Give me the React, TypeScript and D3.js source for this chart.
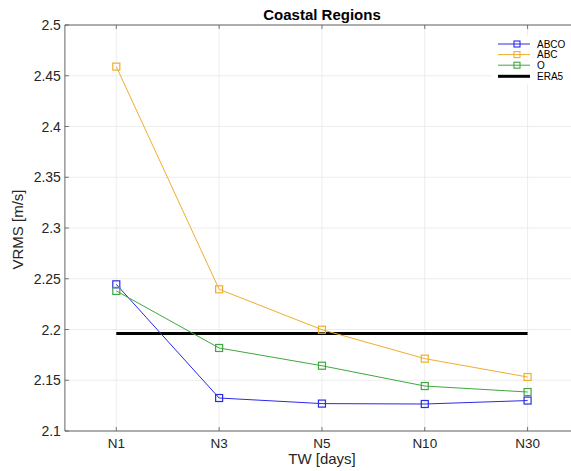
import React from "react";
import * as d3 from "d3";

const categories = ["N1", "N3", "N5", "N10", "N30"];
const abco = [2.2445, 2.1325, 2.127, 2.1266, 2.13];
const abc = [2.459, 2.2396, 2.1998, 2.1713, 2.1532];
const o = [2.238, 2.1818, 2.1643, 2.1443, 2.1384];
const era5 = 2.196;
const yTicks = [2.1, 2.15, 2.2, 2.25, 2.3, 2.35, 2.4, 2.45, 2.5];

const series = [
  { name: "ABCO", values: abco, color: "#2a2ae8" },
  { name: "ABC", values: abc, color: "#f0ad2e" },
  { name: "O", values: o, color: "#3fa83f" },
];

export default function App() {
  const W = 571, H = 471;
  const left = 64.9, top = 25, bottom = 431;
  const x = d3.scaleLinear().domain([0.5, 5.5]).range([left, 579]);
  const y = d3.scaleLinear().domain([2.1, 2.5]).range([bottom, top]);
  const line = d3.line<number>().x((_, i) => x(i + 1)).y((d) => y(d));
  const font = "'Liberation Sans', Arial, Helvetica, sans-serif";
  const tc = "#262626";
  return (
    <svg width={W} height={H} style={{ position: "absolute", left: 0, top: 0 }} fontFamily={font}>
      <rect x={0} y={0} width={W} height={H} fill="#fff" />
      {yTicks.map((t) => (
        <line key={"gy" + t} x1={left} x2={579} y1={y(t)} y2={y(t)} stroke="#e8e8e8" strokeWidth={0.8} />
      ))}
      {categories.map((c, i) => (
        <line key={"gx" + c} x1={x(i + 1)} x2={x(i + 1)} y1={top} y2={bottom} stroke="#e8e8e8" strokeWidth={0.8} />
      ))}
      {/* axes */}
      <line x1={left} x2={579} y1={bottom} y2={bottom} stroke="#555" strokeWidth={0.9} />
      <line x1={left} x2={579} y1={top} y2={top} stroke="#555" strokeWidth={0.9} />
      <line x1={left} x2={left} y1={top} y2={bottom} stroke="#555" strokeWidth={0.9} />
      {yTicks.map((t) => (
        <g key={"ty" + t}>
          <line x1={left} x2={left + 4} y1={y(t)} y2={y(t)} stroke="#555" strokeWidth={0.8} />
          <text x={left - 4} y={y(t)} dy="0.36em" textAnchor="end" fontSize={14} fill={tc}>
            {String(t)}
          </text>
        </g>
      ))}
      {categories.map((c, i) => (
        <g key={"tx" + c}>
          <line x1={x(i + 1)} x2={x(i + 1)} y1={bottom} y2={bottom - 4} stroke="#555" strokeWidth={0.8} />
          <line x1={x(i + 1)} x2={x(i + 1)} y1={top} y2={top + 4} stroke="#555" strokeWidth={0.8} />
          <text x={x(i + 1)} y={448} textAnchor="middle" fontSize={13.5} fill={tc}>
            {c}
          </text>
        </g>
      ))}
      {/* ERA5 */}
      <line x1={x(1)} x2={x(5)} y1={y(era5)} y2={y(era5)} stroke="#000" strokeWidth={3} />
      {series.map((s) => (
        <g key={s.name}>
          <path d={line(s.values) || ""} fill="none" stroke={s.color} strokeWidth={1} />
          {s.values.map((v, i) => (
            <rect key={i} x={x(i + 1) - 3.5} y={y(v) - 3.5} width={7} height={7} fill="none" stroke={s.color} strokeWidth={1.2} />
          ))}
        </g>
      ))}
      {/* legend */}
      <rect x={492} y={36} width={80} height={48} fill="#fff" />
      {series.map((s, i) => {
        const ly = 44 + i * 10.6;
        return (
          <g key={"lg" + s.name}>
            <line x1={498} x2={530} y1={ly} y2={ly} stroke={s.color} strokeWidth={1} />
            <rect x={514} y={ly - 3} width={6} height={6} fill="none" stroke={s.color} strokeWidth={1.1} />
            <text x={537} y={ly} dy="0.36em" fontSize={10} fill="#000">
              {s.name}
            </text>
          </g>
        );
      })}
      <line x1={498} x2={530} y1={76.3} y2={76.3} stroke="#000" strokeWidth={3} />
      <text x={537} y={76.3} dy="0.36em" fontSize={10} fill="#000">ERA5</text>
      {/* title & labels */}
      <text x={322} y={19.5} textAnchor="middle" fontSize={15} fontWeight="bold" fill="#000">
        Coastal Regions
      </text>
      <text x={322} y={464} textAnchor="middle" fontSize={15} fill={tc}>
        TW [days]
      </text>
      <text transform={`translate(22.5,229.5) rotate(-90)`} textAnchor="middle" fontSize={15} fill={tc}>
        VRMS [m/s]
      </text>
    </svg>
  );
}
